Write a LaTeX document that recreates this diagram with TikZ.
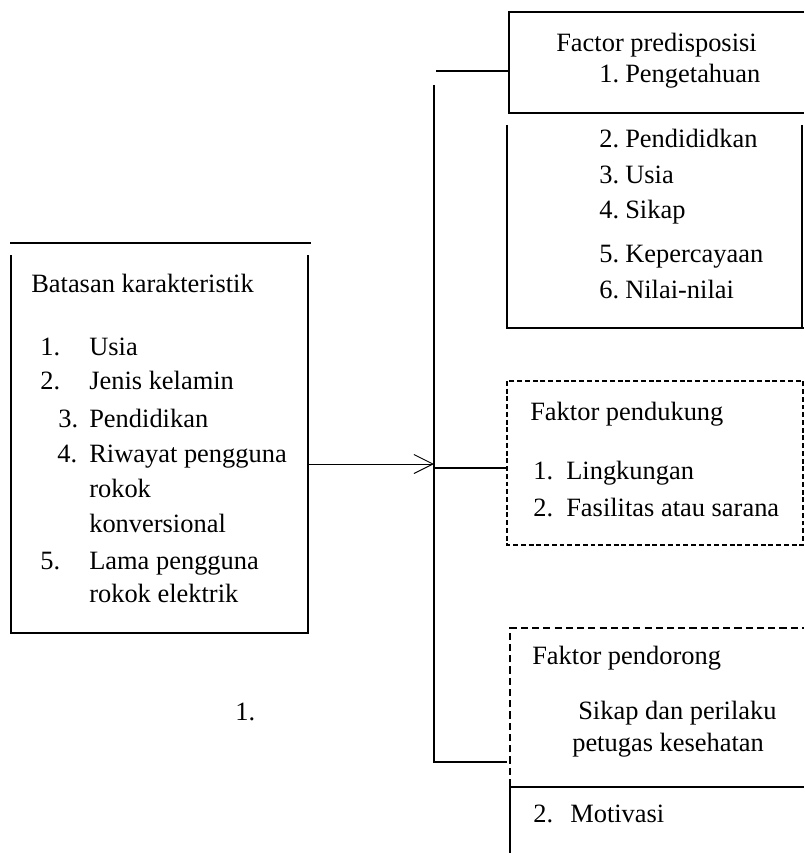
\documentclass[tikz,border=0pt]{standalone}
\usepackage{fontspec}
\setmainfont{Liberation Serif}
\usetikzlibrary{arrows.meta}

\begin{document}
\begin{tikzpicture}[x=0.025cm,y=-0.025cm,
	txt/.style={anchor=base west,inner sep=0pt,font=\fontsize{18.8}{22}\selectfont},
	thickline/.style={line width=2.1pt},
	thinline/.style={line width=1.1pt},
	dashline/.style={line width=0.9pt,dash pattern=on 3.5pt off 2pt},
	bolddash/.style={line width=1.8pt,dash pattern=on 5pt off 3pt}]
\useasboundingbox (0,0) rectangle (804,853);

% Batasan karakteristik
\draw[thickline] (10,243) -- (311,243);
\draw[thinline] (11,255) -- (11,633) -- (308,633) -- (308,255);
\node[txt] (bk) at (31,292) {Batasan karakteristik};
\foreach \x/\y [count=\i] in {40/355, 40/389, 58/427, 57/462, 40/569}
	\node[txt] (bkn\i) at (\x,\y) {\i.};
\foreach \y/\t [count=\i] in {355/Usia, 389/Jenis kelamin, 427/Pendidikan,
		462/Riwayat pengguna, 497/rokok, 532/konversional, 569/Lama pengguna,
		602/rokok elektrik}
	\node[txt] (bkt\i) at (89,\y) {\t};
\node[txt] (lone) at (235,720) {1.};

% Factor predisposisi
\draw[thickline] (804,12) -- (509,12) -- (509,113) -- (804,113);
\draw[thickline] (507,125) -- (507,328) -- (804,328);
\draw[thinline] (802,125) -- (802,328);
\node[txt] (fp) at (556,52) {Factor predisposisi};
\foreach \y/\t [count=\i] in {83/Pengetahuan, 148/Pendididkan, 184/Usia,
		219/Sikap, 262/Kepercayaan, 298/Nilai-nilai}
{
	\node[txt] (fpn\i) at (599,\y) {\i.};
	\node[txt] (fpt\i) at (625,\y) {\t};
}

% Faktor pendukung
\draw[dashline] (507,381) rectangle (803,545);
\node[txt] (fs) at (530,420) {Faktor pendukung};
\foreach \y/\t [count=\i] in {479/Lingkungan, 516/Fasilitas atau sarana}
{
	\node[txt] (fsn\i) at (533,\y) {\i.};
	\node[txt] (fst\i) at (566,\y) {\t};
}

% Faktor pendorong
\draw[bolddash] (510,786) -- (510,628) -- (804,628);
\draw[thinline] (510,853) -- (510,787) -- (804,787);
\node[txt] (fd) at (532,664) {Faktor pendorong};
\node[txt] (fdt1) at (578,719) {Sikap dan perilaku};
\node[txt] (fdt2) at (572,751) {petugas kesehatan};
\node[txt] (fdn2) at (533,822) {2.};
\node[txt] (fdt3) at (570,822) {Motivasi};

% bracket and connectors
\coordinate (brTop) at (434,85);
\coordinate (brBot) at (434,762);
\coordinate (brHead) at (436,71);
\coordinate (brMid) at (434,464);
\coordinate (brSup) at (434,468);
\coordinate (bkR) at (308,464);
\coordinate (fpL) at (509,71);
\coordinate (fsL) at (507,468);
\coordinate (fdL) at (507,762);
\draw[thinline] (brTop) -- (brBot) -- (fdL);
\draw[thickline] (brHead) -- (fpL);
\draw[thickline] (brSup) -- (fsL);
\draw[line width=0.7pt,-{Straight Barb[length=13.5pt,width=13.5pt]}] (bkR) -- (brMid);
\end{tikzpicture}
\end{document}
